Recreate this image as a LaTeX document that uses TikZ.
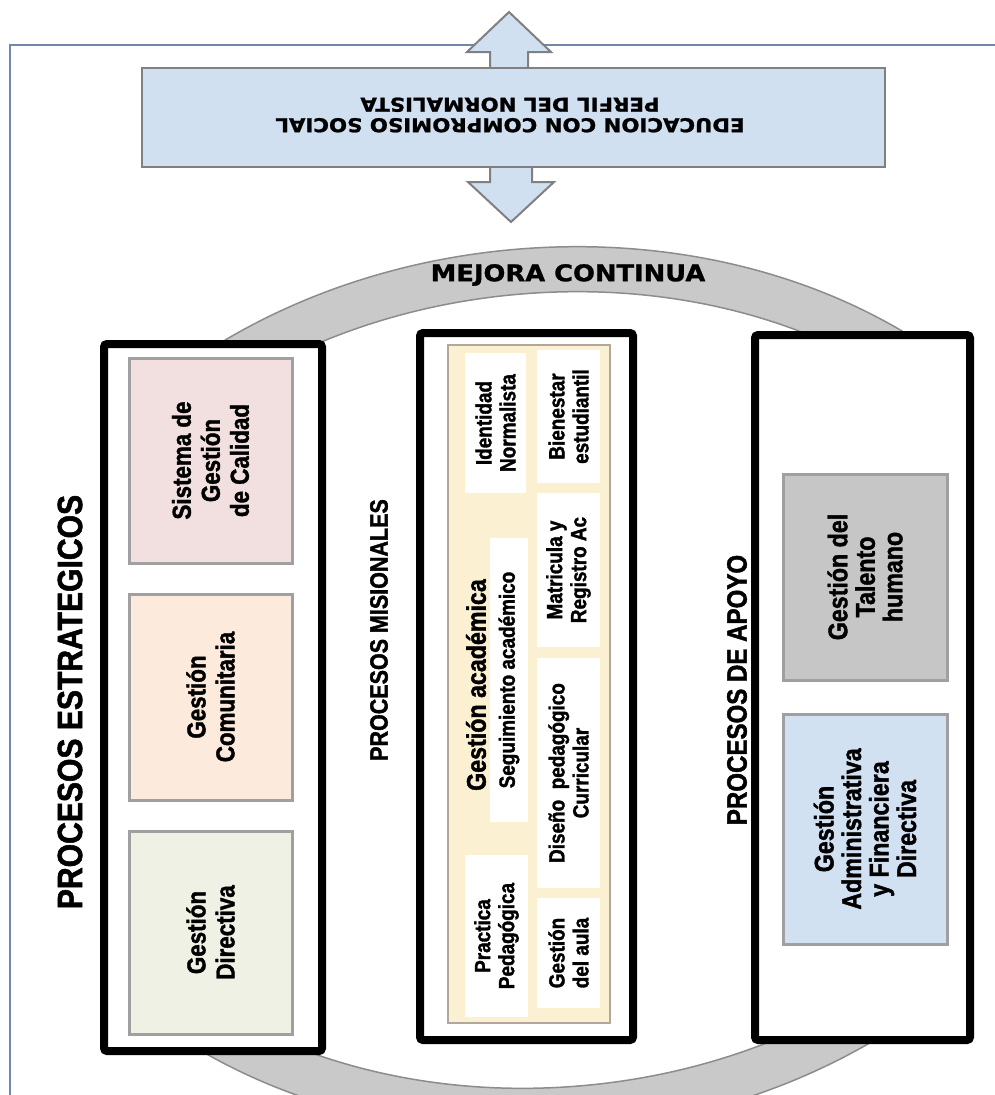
\documentclass[tikz,border=0pt]{standalone}
\usepackage{fontspec}
\setmainfont{Liberation Sans}
\newfontfamily\narrowbold{Liberation Sans Bold}[FakeStretch=0.86, FakeBold=1.5]
\newfontfamily\bannerfont{DejaVu Sans Bold}[FakeStretch=1.12, FakeBold=1.2]
\newfontfamily\mejorafont{DejaVu Sans Bold}[FakeStretch=1.12, FakeBold=1.2]
\usetikzlibrary{positioning}
\definecolor{framesteel}{HTML}{6D8AA8}
\definecolor{bannerblue}{HTML}{D0E0F1}
\definecolor{edgegray}{HTML}{808080}
\definecolor{ringgray}{HTML}{C9C9C9}
\definecolor{ringedge}{HTML}{8C8C8C}
\definecolor{calidadpink}{HTML}{F2E0E0}
\definecolor{comunpeach}{HTML}{FCEBDD}
\definecolor{directgreen}{HTML}{EEF1E3}
\definecolor{acadyellow}{HTML}{FBF0D2}
\definecolor{acadedge}{HTML}{B0A89A}
\definecolor{talentogray}{HTML}{C6C6C6}
\definecolor{adminblue}{HTML}{D2E1F2}
\definecolor{boxedge}{HTML}{A0A0A0}
\tikzset{
    outerline/.style={draw=framesteel, line width=2.8pt},
    banner/.style={rectangle, draw=edgegray, line width=2.5pt, fill=bannerblue, inner sep=0pt},
    bannerarrow/.style={draw=edgegray, line width=2pt, fill=bannerblue, line join=miter},
    ring/.style={draw=ringedge, line width=1.5pt, fill=ringgray, even odd rule},
    procframe/.style={rectangle, draw=black, line width=8pt, fill=white, rounded corners=3pt, inner sep=0pt},
    proctitle/.style={rotate=90, inner sep=0pt, font=\narrowbold\fontsize{25}{28}\selectfont},
    colbox/.style={rectangle, rotate=90, draw=boxedge, line width=3pt, align=center, inner sep=0pt},
    leftbox/.style={colbox, font=\narrowbold\fontsize{26}{29}\selectfont},
    rightbox/.style={colbox, font=\narrowbold\fontsize{27}{27.5}\selectfont},
    acadpanel/.style={rectangle, draw=acadedge, line width=2pt, fill=acadyellow, inner sep=0pt},
    acadbox/.style={rectangle, rotate=90, fill=white, align=center, inner sep=0pt, font=\narrowbold\fontsize{22}{24}\selectfont}
}
\begin{document}
\begin{tikzpicture}[x=1pt, y=-1pt]
    \useasboundingbox (0,0) rectangle (995,1095);

    % Outer frame
    \draw[outerline] (10,1095) -- (10,45) -- (995,45);

    % Mejora continua ring
    \begin{scope}
        \clip (100,0) rectangle (970,1095);
        \begin{scope}[shift={(550,690)}, rotate=5.5]
            \path[ring] (0,0) ellipse [x radius=565, y radius=442]
                        (0,0) ellipse [x radius=520, y radius=397];
        \end{scope}
    \end{scope}
    \node[font=\mejorafont\fontsize{23}{26}\selectfont, inner sep=0pt] (MejoraLabel) at (568,275) {MEJORA CONTINUA};

    % Banner with arrows
    \draw[bannerarrow] (490,80) -- (490,52) -- (467,52) -- (509,12) -- (551,52) -- (528,52) -- (528,80) -- cycle;
    \draw[bannerarrow] (490,155) -- (490,182) -- (468,182) -- (511,222) -- (554,182) -- (532,182) -- (532,155) -- cycle;
    \node[banner, minimum width=743, minimum height=99] (PerfilBanner) at (513.5,117.5) {};
    \node[rotate=180, align=center, inner sep=0pt, font=\bannerfont\fontsize{19}{20.5}\selectfont] (PerfilText) at (510,115)
        {EDUCACION CON COMPROMISO SOCIAL\\PERFIL DEL NORMALISTA};

    % Procesos estrategicos
    \node[procframe, minimum width=218, minimum height=707] (Estrategicos) at (213,697.5) {};
    \node[proctitle, font=\narrowbold\fontsize{35}{38}\selectfont] (EstTitle) at (70,702) {PROCESOS ESTRATEGICOS};
    \node[leftbox, fill=calidadpink, minimum width=205, minimum height=163] (SistemaCalidad) at (210.5,460.5) {Sistema de\\Gestión\\de Calidad};
    \node[leftbox, fill=comunpeach, minimum width=206, minimum height=163] (GestionComunitaria) at (210.5,697) {Gestión\\Comunitaria};
    \node[leftbox, fill=directgreen, minimum width=203, minimum height=163] (GestionDirectiva) at (210.5,932.5) {Gestión\\Directiva};

    % Procesos misionales
    \node[procframe, minimum width=213, minimum height=707] (Misionales) at (526.5,686.5) {};
    \node[proctitle] (MisTitle) at (379,630) {PROCESOS MISIONALES};
    \node[acadpanel, minimum width=162, minimum height=678] (AcadPanel) at (529,684) {};
    \node[acadbox, minimum width=140, minimum height=61] (Identidad) at (495.5,423) {Identidad\\Normalista};
    \node[acadbox, minimum width=133, minimum height=63] (Bienestar) at (568.5,416.5) {Bienestar\\estudiantil};
    \node[acadbox, minimum width=154, minimum height=63] (Matricula) at (568.5,570) {Matricula y\\Registro Ac};
    \node[acadbox, minimum width=284, minimum height=38] (Seguimiento) at (509,680) {Seguimiento académico};
    \node[rotate=90, inner sep=0pt, font=\narrowbold\fontsize{27}{29}\selectfont] (GestionAcad) at (476,685) {Gestión académica};
    \node[acadbox, minimum width=230, minimum height=63] (Diseno) at (568.5,773) {Diseño~ pedagógico\\Curricular};
    \node[acadbox, minimum width=162, minimum height=63] (Practica) at (496.5,936) {Practica\\Pedagógica};
    \node[acadbox, minimum width=110, minimum height=63] (GestionAula) at (568.5,953) {Gestión\\del aula};

    % Procesos de apoyo
    \node[procframe, minimum width=215, minimum height=705] (Apoyo) at (862.5,687.5) {};
    \node[proctitle, font=\narrowbold\fontsize{28}{30}\selectfont] (ApoyoTitle) at (737,690) {PROCESOS DE APOYO};
    \node[rightbox, fill=talentogray, minimum width=206, minimum height=164] (TalentoHumano) at (865,577) {Gestión del\\Talento\\humano};
    \node[rightbox, fill=adminblue, minimum width=230, minimum height=164] (GestionAdmin) at (865,829) {Gestión\\Administrativa\\y Financiera\\Directiva};
\end{tikzpicture}
\end{document}
